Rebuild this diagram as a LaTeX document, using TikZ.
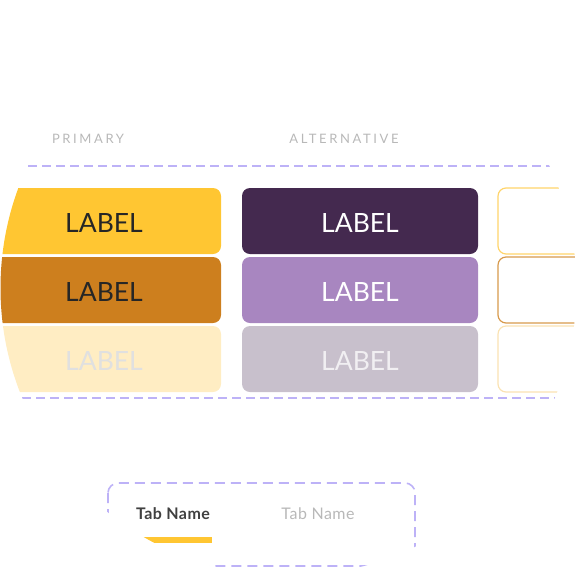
\documentclass[tikz,border=0pt]{standalone}
\usepackage{fontspec}
\setmainfont{Lato}
\definecolor{dashc}{HTML}{BDB2F7}
\definecolor{yel}{HTML}{FFC632}
\definecolor{ora}{HTML}{CD7F1E}
\definecolor{pale}{HTML}{FFEDC3}
\definecolor{dpur}{HTML}{44294F}
\definecolor{lpur}{HTML}{A886C0}
\definecolor{gpur}{HTML}{C8C0CC}
\definecolor{heading}{HTML}{B8B8B8}
\definecolor{yline}{HTML}{FFD46A}
\begin{document}
\begin{tikzpicture}[x=1pt,y=-1pt,
  cell/.style={rounded corners=8pt,minimum width=#1,minimum height=66pt,inner sep=0pt,text height=22pt,text depth=0pt,font=\fontsize{26.5}{26.5}\selectfont},
  guide/.style={draw=dashc,line width=1.8pt,dash pattern=on 9pt off 5pt},
  heads/.style={text=heading,font=\fontsize{13}{13}\selectfont\addfontfeature{LetterSpace=20}},
  tabname/.style={font=\fontsize{16}{16}\selectfont\addfontfeature{LetterSpace=3}}]
\useasboundingbox (0,0) rectangle (577,576);
\begin{scope}
\clip (288.5,288) circle (288pt);
\node[heads] (hp) at (88,139) {PRIMARY};
\node[heads] (ha) at (344,139) {ALTERNATIVE};
\draw[guide] (28,166) -- (552,166);
\draw[guide] (22,398) -- (556,398);
% primary column
\node[cell=234pt,fill=yel,text=black!85] (p1) at (104,221) {LABEL};
\node[cell=234pt,fill=ora,text=black!85] (p2) at (104,290) {LABEL};
\node[cell=234pt,fill=pale,text=black!12] (p3) at (104,359) {LABEL};
% alternative column
\node[cell=236pt,fill=dpur,text=white] (a1) at (360,221) {LABEL};
\node[cell=236pt,fill=lpur,text=white] (a2) at (360,290) {LABEL};
\node[cell=236pt,fill=gpur,text=white!75!gpur] (a3) at (360,359) {LABEL};
% outline column
\node[cell=150pt,draw=yline,line width=1.2pt] (o1) at (573,221) {};
\node[cell=150pt,draw=ora!80,line width=1.2pt] (o2) at (573,290) {};
\node[cell=150pt,draw=pale!90!ora,line width=1.2pt] (o3) at (573,359) {};
% tab bar
\draw[draw=dashc,line width=1.6pt,dash pattern=on 10pt off 6pt,rounded corners=10pt] (108,483) rectangle (415,566);
\node[tabname,text=black!75] (t1) at (173,514) {\bfseries Tab Name};
\node[tabname,text=heading] (t2) at (318,514) {Tab Name};
\fill[yel] (140,537) rectangle (212,543);
\end{scope}
\end{tikzpicture}
\end{document}
